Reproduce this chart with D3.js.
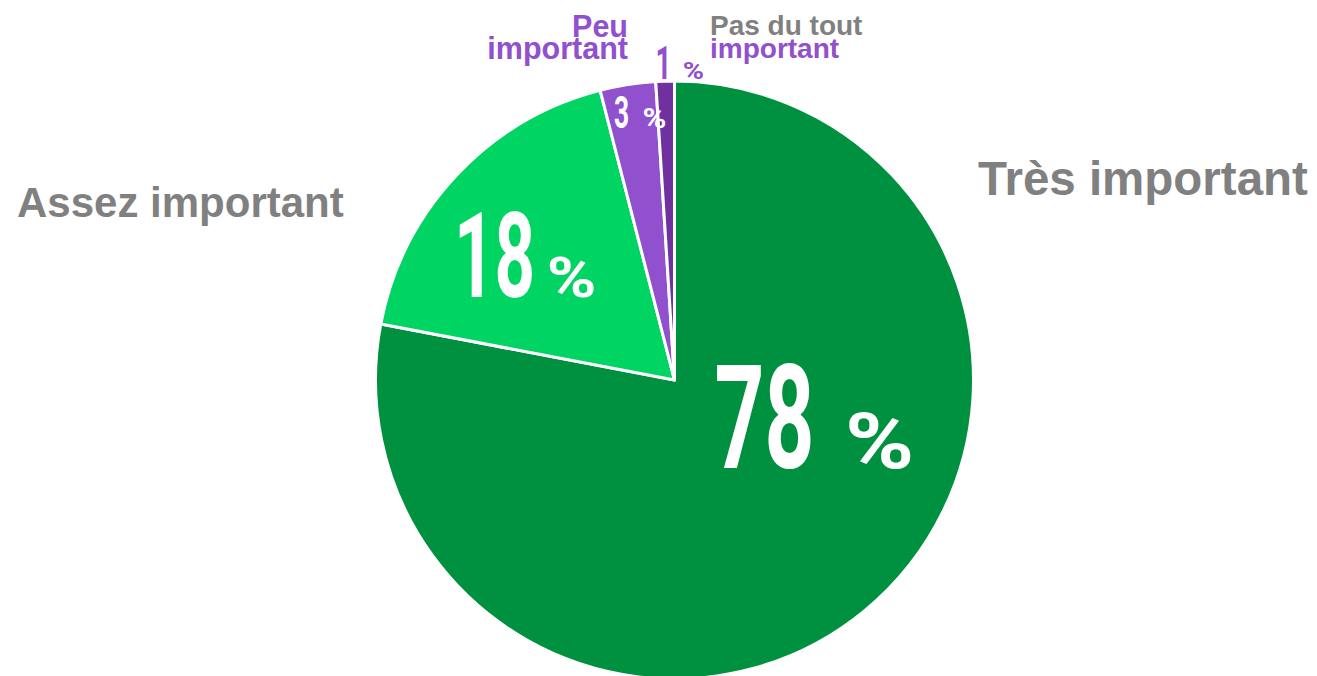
<!DOCTYPE html>
<html>
<head>
<meta charset="utf-8">
<script src="https://cdn.jsdelivr.net/npm/d3@7"></script>
<style>
  body { margin: 0; background: #fff; }
  svg { display: block; }
</style>
</head>
<body>
<div id="chart"></div>
<script>
// Data
const categories = ["Très important", "Assez important", "Peu important", "Pas du tout important"];
const values = [78, 18, 3, 1];
const colors = ["#009140", "#00d563", "#9150cd", "#7030a0"];

// Label placement (pixel offsets from pie centre)
const valueLabels = [
    { dx: 90,   dy: 88,   num: 145, pct: 78, pctDx: 115, fill: "#fff" },
    { dx: -180, dy: -83,  num: 118, pct: 56, pctDx: 77,  fill: "#fff" },
    { dx: -53,  dy: -252, num: 44,  pct: 27, pctDx: 33,  fill: "#fff" },
    { dx: -11,  dy: -301, num: 46,  pct: 24, pctDx: 30,  fill: "#9150cd" }
];
const numScale = 0.6, pctScale = 1.2;

const width = 1317, height = 676;
const cx = 674.5, cy = 380, radius = 299;

const svg = d3.select("#chart")
    .append("svg")
    .attr("width", width)
    .attr("height", height);

const g = svg.append("g")
    .attr("transform", `translate(${cx},${cy})`);

const pie = d3.pie().sort(null).value(d => d);
const arc = d3.arc().innerRadius(0).outerRadius(radius);
const arcs = pie(values);

g.selectAll(".slice")
    .data(arcs)
    .enter()
    .append("path")
    .attr("class", "slice")
    .attr("d", arc)
    .attr("fill", (d, i) => colors[i])
    .attr("stroke", "#fff")
    .attr("stroke-width", 3)
    .attr("stroke-linejoin", "round");

// value labels (condensed look through horizontal scaling)
arcs.forEach((d, i) => {
    const l = valueLabels[i];
    g.append("text")
        .attr("transform", `translate(${l.dx},${l.dy}) scale(${numScale},1)`)
        .attr("text-anchor", "middle")
        .style("font-family", "Roboto, sans-serif")
        .style("font-weight", 700)
        .style("font-size", l.num + "px")
        .attr("fill", l.fill)
        .text(values[i]);
    g.append("text")
        .attr("transform", `translate(${l.dx + l.pctDx},${l.dy}) scale(${pctScale},1)`)
        .attr("text-anchor", "middle")
        .style("font-family", "Roboto, sans-serif")
        .style("font-weight", 700)
        .style("font-size", l.pct + "px")
        .attr("fill", l.fill)
        .text("%");
});

// category labels
const labelFont = "'Liberation Sans', Arial, sans-serif";
function catLabel(x, y, size, anchor, fill, txt) {
    svg.append("text")
        .attr("x", x)
        .attr("y", y)
        .attr("text-anchor", anchor)
        .style("font-family", labelFont)
        .style("font-weight", "bold")
        .style("font-size", size + "px")
        .attr("fill", fill)
        .text(txt);
}

catLabel(978, 195, 47.5, "start", "#808080", categories[0]);
catLabel(17, 217, 42, "start", "#808080", categories[1]);
catLabel(628, 37, 30.5, "end", "#9150cd", "Peu");
catLabel(628, 59, 30.5, "end", "#9150cd", "important");
catLabel(710, 35, 28, "start", "#808080", "Pas du tout");
catLabel(710, 58, 28, "start", "#9150cd", "important");
</script>
</body>
</html>
